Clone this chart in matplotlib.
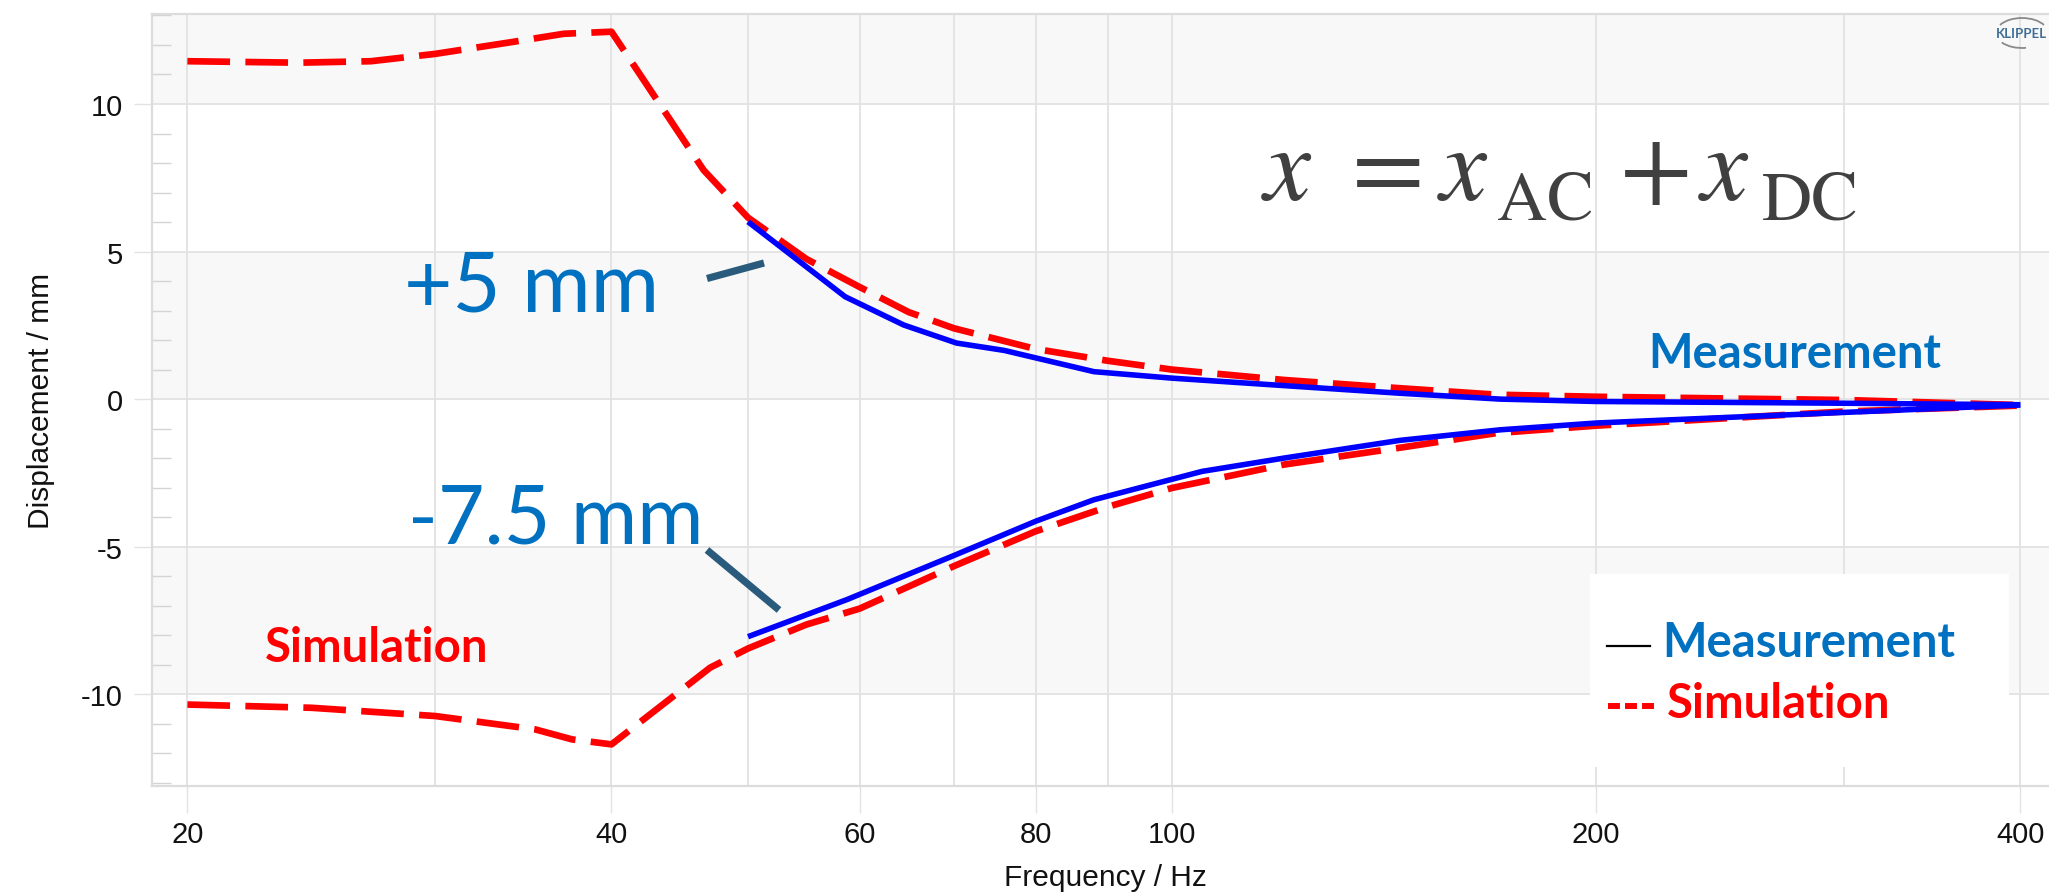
import matplotlib
matplotlib.use('Agg')
import matplotlib.pyplot as plt
from matplotlib.ticker import MultipleLocator, NullFormatter
from matplotlib.lines import Line2D
from matplotlib.patches import Rectangle, Arc
from matplotlib.transforms import IdentityTransform

# ---------------- data ----------------
sim_up_freq = [20, 24, 27, 30, 34, 37, 40, 46.5, 50, 55, 60, 65, 70, 80, 90, 100, 120, 145, 170, 200, 300, 400]
sim_up_val = [11.45, 11.4, 11.45, 11.7, 12.1, 12.38, 12.45, 7.76, 6.15, 4.75, 3.8, 2.95, 2.4, 1.7, 1.3, 1.0,
              0.65, 0.37, 0.15, 0.08, -0.03, -0.2]

sim_lo_freq = [20, 24.5, 30, 35.3, 37.5, 40, 47, 50, 55, 60, 70, 80, 90, 100, 120, 145, 170, 200, 300, 400]
sim_lo_val = [-10.35, -10.46, -10.74, -11.19, -11.53, -11.7, -9.1, -8.45, -7.64, -7.1, -5.66, -4.48, -3.65,
              -3.01, -2.22, -1.65, -1.15, -0.9, -0.42, -0.22]

meas_up_freq = [50, 58.6, 64.5, 70.3, 76, 88, 100, 128, 145, 171, 200, 300, 400]
meas_up_val = [6.01, 3.47, 2.51, 1.9, 1.65, 0.93, 0.71, 0.37, 0.2, 0.0, -0.08, -0.14, -0.19]

meas_lo_freq = [50, 58.8, 70, 80, 88, 105, 120, 145, 171, 200, 300, 400]
meas_lo_val = [-8.05, -6.79, -5.3, -4.14, -3.41, -2.45, -2.0, -1.4, -1.04, -0.81, -0.45, -0.2]

x_ticks = [20, 40, 60, 80, 100, 200, 400]
x_ticklabels = ['20', '40', '60', '80', '100', '200', '400']
x_minor = [30, 50, 70, 90, 300]
y_ticks = [-10, -5, 0, 5, 10]
y_ticklabels = ['-10', '-5', '0', '5', '10']

# ---------------- style ----------------
plt.rcParams['font.family'] = ['Liberation Sans', 'DejaVu Sans']

W, H = 2049, 895
fig = plt.figure(figsize=(W / 100, H / 100), dpi=100)
fig.patch.set_facecolor('white')


def fx(x):
    return x / W


def fy(y):
    return 1 - y / H


L, R, T, B = 151.8, 2049, 15, 786.7
ax = fig.add_axes([fx(L), fy(B), fx(R) - fx(L), fy(T) - fy(B)])
ax.set_facecolor('white')
ax.set_xscale('log')
ax.set_xlim(18.87, 419.2)
ax.set_ylim(-13.1, 13.05)

band = '#f8f8f8'
for lo, hi in [(10, 20), (0, 5), (-10, -5)]:
    ax.axhspan(lo, hi, color=band, zorder=0, lw=0)

grid_c = '#e2e2e2'
ax.set_xticks(x_ticks, x_ticklabels)
ax.set_xticks(x_minor, minor=True)
ax.xaxis.set_minor_formatter(NullFormatter())
ax.set_yticks(y_ticks, y_ticklabels)
ax.yaxis.set_minor_locator(MultipleLocator(1))

ax.grid(True, axis='x', which='both', color=grid_c, lw=1.3, zorder=0.5)
ax.grid(True, axis='y', which='major', color=grid_c, lw=1.3, zorder=0.5)
ax.set_axisbelow(True)

ax.tick_params(axis='x', which='major', length=19.5, width=1.0, color=grid_c, pad=5.5,
               labelsize=21, labelcolor='#111111')
ax.tick_params(axis='x', which='minor', length=0)
ax.tick_params(axis='y', which='major', length=13, width=1.0, color=grid_c, pad=8,
               labelsize=21, labelcolor='#111111')
ax.tick_params(axis='y', which='minor', direction='in', length=13.5, width=1.0, color='#d4d4d4')

for s in ['left', 'bottom', 'top']:
    ax.spines[s].set_color('#dcdcdc')
    ax.spines[s].set_linewidth(1.6)
ax.spines['right'].set_visible(False)

red = '#ff0000'
blue = '#0000ff'
ax.plot(sim_up_freq, sim_up_val, color=red, lw=4.8, dashes=(6.4, 2.3), zorder=3)
ax.plot(sim_lo_freq, sim_lo_val, color=red, lw=4.8, dashes=(6.4, 2.3), zorder=3)
ax.plot(meas_up_freq, meas_up_val, color=blue, lw=4.0, zorder=4, solid_capstyle='butt')
ax.plot(meas_lo_freq, meas_lo_val, color=blue, lw=4.0, zorder=4, solid_capstyle='butt')

# axis labels
fig.text(fx(1105), fy(878), 'Frequency / Hz', ha='center', va='center', fontsize=21.5, color='#111111')
fig.text(fx(41), fy(401), 'Displacement / mm', ha='center', va='center', rotation=90, fontsize=21.5,
         color='#111111')

# ---------------- annotations ----------------
txt_blue = '#0070c0'
callout_font = ['Lato', 'DejaVu Sans']
fig.text(fx(404), fy(311.7), '+5 mm', ha='left', va='baseline', fontsize=60, color=txt_blue,
         family=callout_font)
fig.text(fx(408), fy(543.3), '-7.5 mm', ha='left', va='baseline', fontsize=58, color=txt_blue,
         family=callout_font)

conn = '#2a5b7c'
fig.add_artist(Line2D([fx(707), fx(764)], [fy(279.5), fy(264)], color=conn, lw=5.2,
                      solid_capstyle='butt', transform=fig.transFigure))
fig.add_artist(Line2D([fx(707), fx(779)], [fy(551), fy(611)], color=conn, lw=5.2,
                      solid_capstyle='butt', transform=fig.transFigure))

fig.text(fx(265), fy(661.7), 'Simulation', ha='left', va='baseline', fontsize=34, color=red,
         fontweight='bold', family=callout_font)
fig.text(fx(1648), fy(368.3), 'Measurement', ha='left', va='baseline', fontsize=34, color=txt_blue,
         fontweight='bold', family=callout_font)

# formula x = x_AC + x_DC, composed piecewise to match spacing
f_col = '#404040'
f_fam = ['STIXGeneral', 'DejaVu Serif']
main_base = 200
sub_base = 219
for xpos, s in [(1264, 'x'), (1440, 'x'), (1701, 'x')]:
    fig.text(fx(xpos), fy(main_base), s, ha='left', va='baseline', fontsize=76, color=f_col,
             family=f_fam, style='italic')
for xpos, s in [(1352, '='), (1620, '+')]:
    fig.text(fx(xpos), fy(main_base), s, ha='left', va='baseline', fontsize=76, color=f_col,
             family=f_fam)
for xpos, s in [(1497, 'AC'), (1762, 'DC')]:
    fig.text(fx(xpos), fy(sub_base), s, ha='left', va='baseline', fontsize=50, color=f_col,
             family=f_fam)

# pseudo legend box
fig.add_artist(Rectangle((fx(1589.7), fy(768.3)), fx(2008.5) - fx(1589.7), fy(575) - fy(768.3),
                         facecolor='white', edgecolor='none', transform=fig.transFigure, zorder=5))
fig.add_artist(Line2D([fx(1606.7), fx(1650)], [fy(646.7), fy(646.7)], color='black', lw=1.6,
                      transform=fig.transFigure, zorder=6))
fig.text(fx(1662), fy(656.7), 'Measurement', ha='left', va='baseline', fontsize=34, color=txt_blue,
         fontweight='bold', family=callout_font, zorder=6)
fig.add_artist(Line2D([fx(1608), fx(1654)], [fy(706.7), fy(706.7)], color=red, lw=4.3,
                      dashes=(2.0, 0.85), solid_capstyle='butt', transform=fig.transFigure, zorder=6))
fig.text(fx(1667), fy(718.3), 'Simulation', ha='left', va='baseline', fontsize=34, color=red,
         fontweight='bold', family=callout_font, zorder=6)

# KLIPPEL logo
fig.text(fx(1996), fy(34), 'KLIPPEL', ha='left', va='center', fontsize=9.5, color='#3e6e96',
         fontweight='bold', family=callout_font, zorder=6)
fig.add_artist(Arc((2022, H - 34), 52, 30, theta1=20, theta2=160, color='#8a8a8a', lw=1.3,
                   transform=IdentityTransform(), zorder=6))
fig.add_artist(Arc((2022, H - 34), 52, 30, theta1=205, theta2=285, color='#8a8a8a', lw=1.3,
                   transform=IdentityTransform(), zorder=6))

fig.savefig('out.png', dpi=100, facecolor='white')
